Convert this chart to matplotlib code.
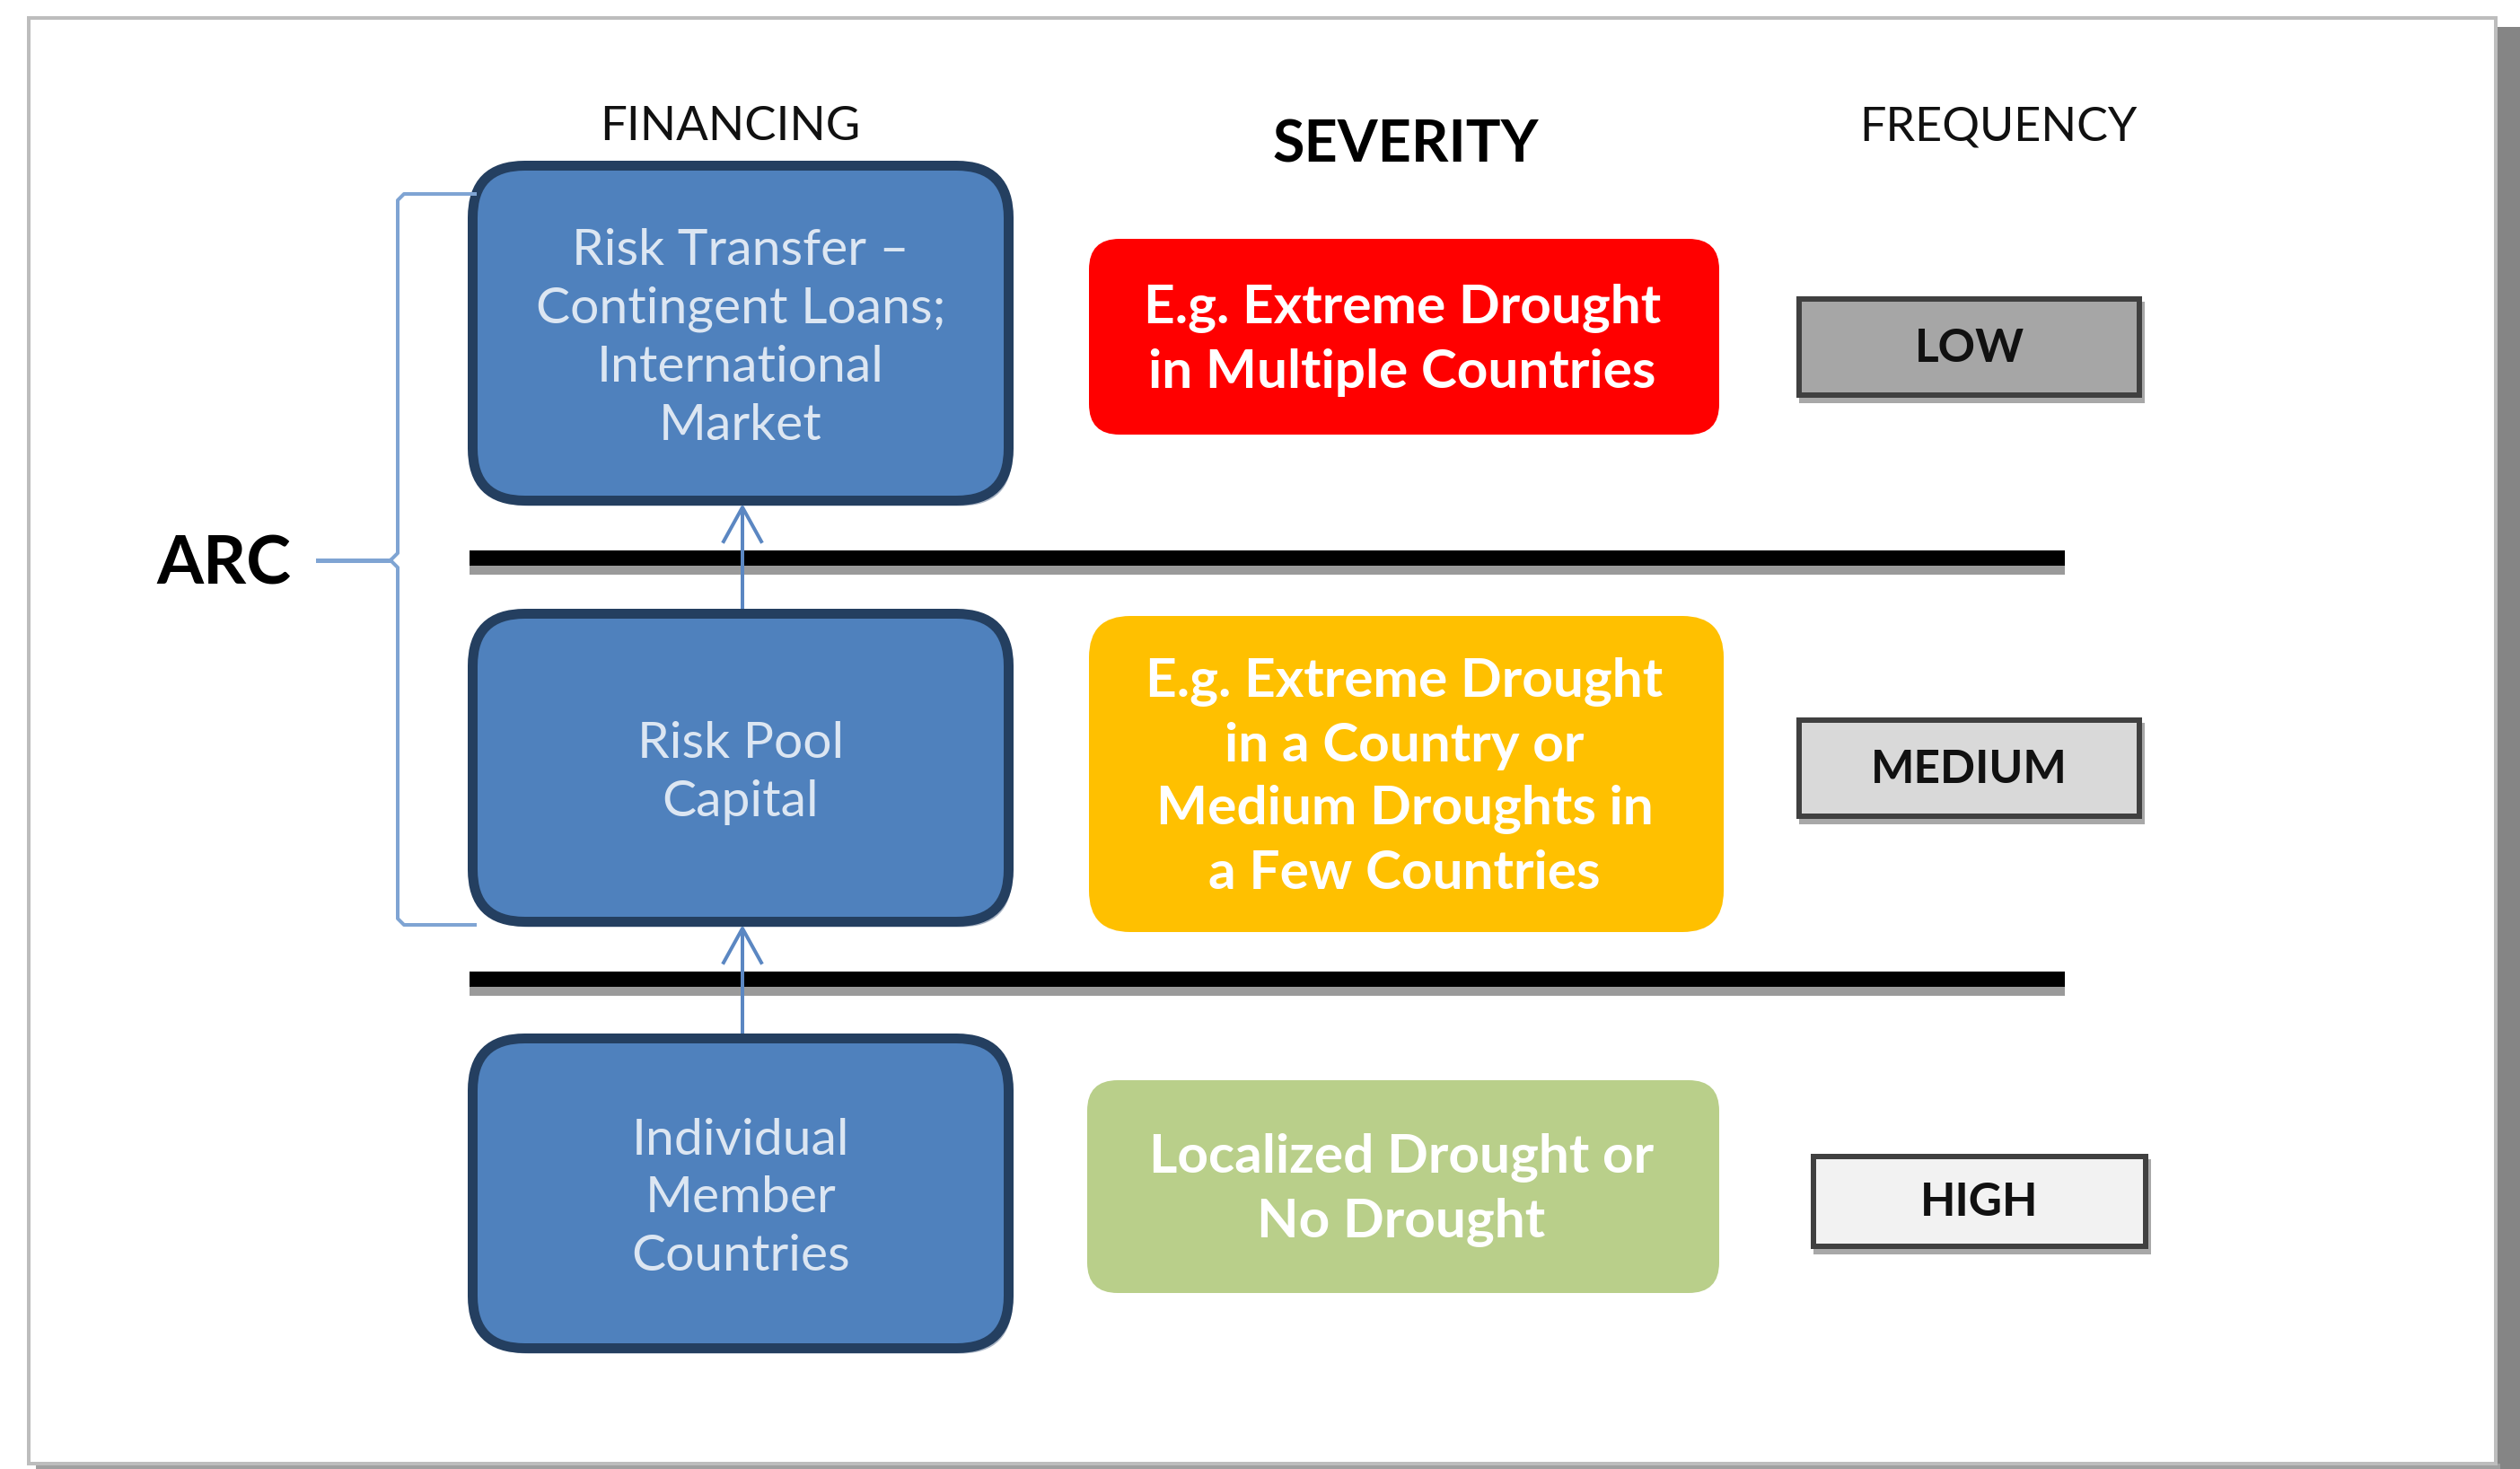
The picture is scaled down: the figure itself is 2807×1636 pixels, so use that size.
import matplotlib
matplotlib.use("Agg")
import matplotlib.pyplot as plt
from matplotlib.patches import FancyBboxPatch, Rectangle

plt.rcParams['font.family'] = ['Lato', 'DejaVu Sans']

# Diagram content
column_titles = ["FINANCING", "SEVERITY", "FREQUENCY"]
financing_labels = [
    "Risk Transfer –\nContingent Loans;\nInternational\nMarket",
    "Risk Pool\nCapital",
    "Individual\nMember\nCountries",
]
severity_labels = [
    "E.g. Extreme Drought\nin Multiple Countries",
    "E.g. Extreme Drought\nin a Country or\nMedium Droughts in\na Few Countries",
    "Localized Drought or\nNo Drought",
]
severity_colors = ["#FF0000", "#FFC000", "#B9CF8A"]
frequency_labels = ["LOW", "MEDIUM", "HIGH"]
frequency_colors = ["#A6A6A6", "#D9D9D9", "#F2F2F2"]
group_label = "ARC"

# Layout in pixels (figure is 2807 x 1636)
W, H = 2807, 1636
fin_x = (521, 1129)
fin_rows = [(179, 563), (678, 1032), (1151, 1507)]
sev_x = [(1213, 1915), (1213, 1920), (1211, 1915)]
sev_rows = [(266, 484), (686, 1038), (1203, 1440)]
sev_round = [34, 46, 34]
freq_x = [(2001, 2386), (2001, 2386), (2017, 2393)]
freq_rows = [(330, 443), (799, 912), (1285, 1391)]
bar_y = [(613, 630), (1082, 1099)]
bar_x = (523, 2300)
title_pos = [(813, 142), (1566, 162), (2226, 142)]
px = 72 / 100.0  # points per pixel at dpi 100

fig = plt.figure(figsize=(W / 100, H / 100), dpi=100)
ax = fig.add_axes([0, 0, 1, 1])
ax.set_xlim(0, W)
ax.set_ylim(H, 0)
ax.axis('off')

# page frame with drop shadow
ax.add_patch(Rectangle((2781, 30), W - 2781, H - 30, color='#858585', lw=0))
ax.add_patch(Rectangle((40, 1630), 2745, 6, color='#A0A0A0', lw=0))
ax.add_patch(Rectangle((32, 20), 2748, 1610, fill=False, ec='#BDBDBD', lw=4 * px))

# column headers
ax.text(*title_pos[0], column_titles[0], ha='center', va='center', fontsize=38, color='#111111')
ax.text(*title_pos[1], column_titles[1], ha='center', va='center', fontsize=46.5,
        fontweight='bold', color='black')
ax.text(*title_pos[2], column_titles[2], ha='center', va='center', fontsize=37.5, color='#111111')

# financing boxes
lw_box = 11
for (y0, y1), label in zip(fin_rows, financing_labels):
    x0, x1 = fin_x
    inset = lw_box / 2
    shadow = FancyBboxPatch((x0 + inset + 4, y0 + inset + 6), x1 - x0 - 2 * inset, y1 - y0 - 2 * inset,
                            boxstyle="round,pad=0,rounding_size=58", fc='#A9B4C4', ec='none', zorder=1)
    ax.add_patch(shadow)
    box = FancyBboxPatch((x0 + inset, y0 + inset), x1 - x0 - 2 * inset, y1 - y0 - 2 * inset,
                         boxstyle="round,pad=0,rounding_size=58", fc='#4F81BD', ec='#243F60',
                         lw=lw_box * px, zorder=2)
    ax.add_patch(box)
    ax.text((x0 + x1) / 2, (y0 + y1) / 2 + 6, label, ha='center', va='center', fontsize=41,
            color='#DCE6F2', linespacing=1.34, zorder=3)

# arrows between financing boxes
arrow_x = (fin_x[0] + fin_x[1]) / 2 + 2
for upper, lower in zip(fin_rows[:-1], fin_rows[1:]):
    tip = upper[1] + 2
    ax.plot([arrow_x, arrow_x], [lower[0], tip], color='#5B87C2', lw=4 * px, zorder=4,
            solid_capstyle='butt')
    ax.plot([arrow_x - 21, arrow_x, arrow_x + 21], [tip + 38, tip, tip + 38], color='#5B87C2',
            lw=4 * px, zorder=4)

# black separator bars
for y0, y1 in bar_y:
    ax.add_patch(Rectangle((bar_x[0], y1 - 2), bar_x[1] - bar_x[0], 12, color='#9A9A9A', lw=0, zorder=2))
    ax.add_patch(Rectangle((bar_x[0], y0), bar_x[1] - bar_x[0], y1 - y0, color='black', lw=0, zorder=3))

# severity boxes
for (x0, x1), (y0, y1), r, c, label in zip(sev_x, sev_rows, sev_round, severity_colors, severity_labels):
    ax.add_patch(FancyBboxPatch((x0, y0), x1 - x0, y1 - y0,
                                boxstyle=f"round,pad=0,rounding_size={r}", fc=c, ec='none', zorder=2))
    ax.text((x0 + x1) / 2 - 2, (y0 + y1) / 2 + 4, label, ha='center', va='center', fontsize=43.5,
            fontweight='bold', color='white', linespacing=1.38, zorder=3)

# frequency boxes
for (x0, x1), (y0, y1), c, label in zip(freq_x, freq_rows, frequency_colors, frequency_labels):
    ax.add_patch(Rectangle((x0 + 3, y0 + 6), x1 - x0, y1 - y0, color='#A8A8A8', lw=0, zorder=1))
    ax.add_patch(Rectangle((x0 + 3, y0 + 3), x1 - x0 - 6, y1 - y0 - 6, fc=c, ec='#404040',
                           lw=6 * px, zorder=2))
    ax.text((x0 + x1) / 2, (y0 + y1) / 2 + 2, label, ha='center', va='center', fontsize=37,
            fontweight='bold', color='#111111', zorder=3)

# ARC brace
brace_c = '#7FA4D3'
bx = 443
mid = 624
top = fin_rows[0][0] + 37
bot = fin_rows[1][1] - 2
ax.plot([fin_x[0] + 8, bx + 7, bx, bx, bx - 8], [top, top, top + 7, mid - 8, mid],
        color=brace_c, lw=4 * px, zorder=2)
ax.plot([bx - 8, bx, bx, bx + 7, fin_x[0] + 8], [mid, mid + 8, bot - 7, bot, bot],
        color=brace_c, lw=4 * px, zorder=2)
ax.plot([354, bx - 8], [mid, mid], color=brace_c, lw=5 * px, zorder=2)
ax.text(249, mid + 5, group_label, ha='center', va='center', fontsize=54, fontweight='bold', color='black')

fig.savefig("out.png", dpi=100)
